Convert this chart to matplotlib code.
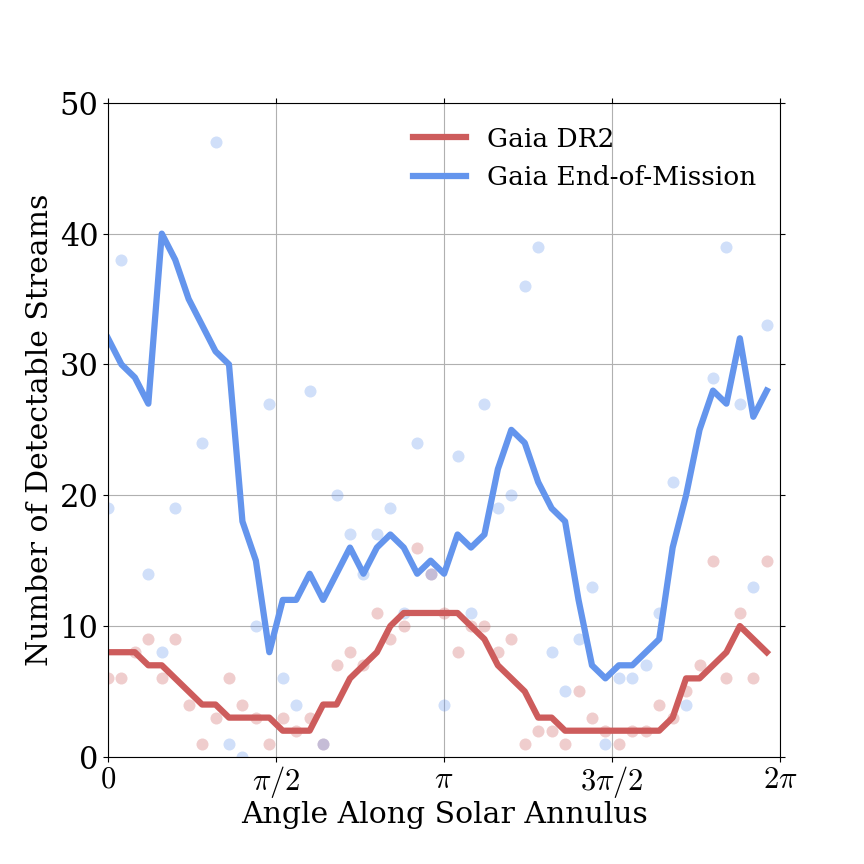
import numpy as np
import matplotlib
matplotlib.use("Agg")
import matplotlib.pyplot as plt

plt.rcParams['font.family'] = 'DejaVu Serif'
plt.rcParams['mathtext.fontset'] = 'cm'

nan = np.nan

# raw counts per angle bin (scatter) and the smoothed curves (lines)
# nan = point not visible in the figure
dr2_points = [6, 6, 8, 9, 6, 9, 4, 1, 3, 6, 4, 3, 1, 3, 2, 3, 1, 7, 8, 7,
              11, 9, 10, 16, 14, 11, 8, 10, 10, 8, 9, 1, 2, 2, 1, 5, 3, 2, 1, 2,
              2, 4, 3, 5, 7, 15, 6, 11, 6, 15]
eom_points = [19, 38, nan, 14, 8, 19, nan, 24, 47, 1, 0, 10, 27, 6, 4, 28, 1, 20, 17, 14,
              17, 19, 11, 24, 14, 4, 23, 11, 27, 19, 20, 36, 39, 8, 5, 9, 13, 1, 6, 6,
              7, 11, 21, 4, nan, 29, 39, 27, 13, 33]
dr2_line = [8, 8, 8, 7, 7, 6, 5, 4, 4, 3, 3, 3, 3, 2, 2, 2, 4, 4, 6, 7,
            8, 10, 11, 11, 11, 11, 11, 10, 9, 7, 6, 5, 3, 3, 2, 2, 2, 2, 2, 2,
            2, 2, 3, 6, 6, 7, 8, 10, 9, 8]
eom_line = [32, 30, 29, 27, 40, 38, 35, 33, 31, 30, 18, 15, 8, 12, 12, 14, 12, 14, 16, 14,
            16, 17, 16, 14, 15, 14, 17, 16, 17, 22, 25, 24, 21, 19, 18, 12, 7, 6, 7, 7,
            8, 9, 16, 20, 25, 28, 27, 32, 26, 28]

n_bins = len(eom_line)
angles = 2 * np.pi * np.arange(n_bins) / n_bins

red = 'indianred'
blue = 'cornflowerblue'

fig = plt.figure(figsize=(8.64, 8.64), dpi=100)
ax = fig.add_axes([0.125, 0.124, 0.778, 0.757])

ax.scatter(angles, dr2_points, s=75, color=red, alpha=0.3, lw=0)
ax.scatter(angles, eom_points, s=75, color=blue, alpha=0.3, lw=0)
ax.plot(angles, dr2_line, color=red, lw=4.5, label='Gaia DR2')
ax.plot(angles, eom_line, color=blue, lw=4.5, label='Gaia End-of-Mission')

ax.set_xlim(0, 2 * np.pi)
ax.set_ylim(0, 50)
ax.set_xticks([0, np.pi / 2, np.pi, 3 * np.pi / 2, 2 * np.pi])
ax.set_xticklabels([r'$0$', r'$\pi/2$', r'$\pi$', r'$3\pi/2$', r'$2\pi$'])
ax.set_yticks([0, 10, 20, 30, 40, 50])
ax.tick_params(labelsize=22, top=True, right=True)
ax.tick_params(axis='x', pad=1.5)
ax.grid(True, color='#b0b0b0', lw=0.8)
ax.set_axisbelow(True)

ax.set_xlabel('Angle Along Solar Annulus', fontsize=21.5, labelpad=1)
ax.set_ylabel('Number of Detectable Streams', fontsize=21.5)
ax.legend(loc='upper right', frameon=False, fontsize=19)

fig.savefig('out.png', dpi=100)
